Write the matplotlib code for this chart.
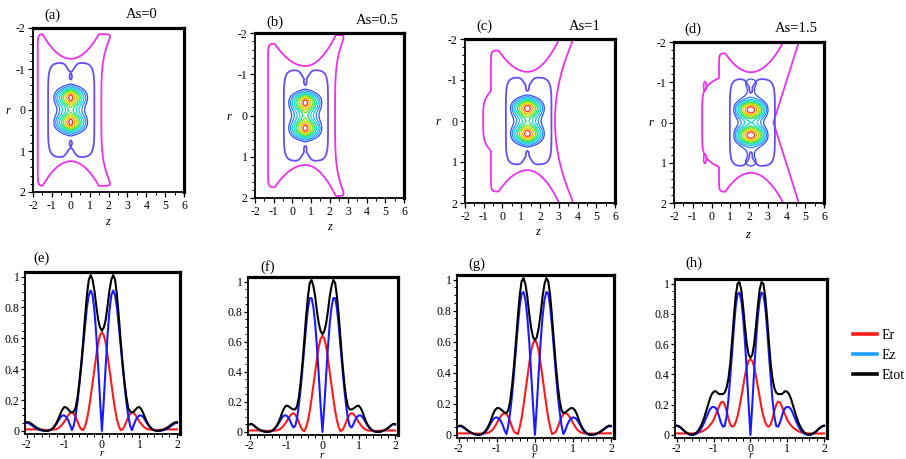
"""
Field-shift comparison: contour maps of |E| in the (z, r) plane for four
values of As (top row) and the radial profiles Er, Ez, Etot at the focus
(bottom row).  Output: out.png
"""

import numpy as np
import matplotlib.pyplot as plt
from matplotlib.lines import Line2D
from matplotlib.ticker import MultipleLocator

plt.rcParams["font.family"] = ["Liberation Serif", "DejaVu Serif"]
plt.rcParams["axes.unicode_minus"] = False

# ── radial profiles, read for r = 0 .. 2 (step 0.05); curves are symmetric ──
R_HALF = np.round(np.arange(0, 2.001, 0.05), 2)

ER_E = [0.64, 0.62, 0.57, 0.49, 0.40, 0.31, 0.22, 0.14, 0.075, 0.03, 0.005,
        0.01, 0.03, 0.06, 0.09, 0.11, 0.12, 0.115, 0.10, 0.08, 0.06,
        0.045, 0.03, 0.02, 0.013, 0.01, 0.008, 0.007, 0.006, 0.006, 0.006,
        0.007, 0.008, 0.009, 0.01, 0.01, 0.01, 0.01, 0.01, 0.01, 0.01]
EZ_E = [0.0, 0.20, 0.42, 0.62, 0.78, 0.88, 0.91, 0.88, 0.80, 0.68, 0.55,
        0.42, 0.30, 0.19, 0.10, 0.035, 0.005, 0.04, 0.07, 0.09, 0.10,
        0.10, 0.09, 0.07, 0.05, 0.032, 0.018, 0.008, 0.003, 0.0, 0.0,
        0.001, 0.003, 0.006, 0.01, 0.016, 0.024, 0.033, 0.042, 0.05, 0.052]
ETOT_E = [0.65, 0.67, 0.72, 0.81, 0.91, 0.98, 1.01, 0.98, 0.88, 0.74, 0.58,
          0.44, 0.32, 0.22, 0.15, 0.125, 0.12, 0.125, 0.14, 0.152, 0.155,
          0.14, 0.115, 0.085, 0.058, 0.036, 0.02, 0.01, 0.004, 0.001, 0.0,
          0.002, 0.005, 0.01, 0.016, 0.023, 0.032, 0.041, 0.05, 0.056, 0.057]

ER_F = [0.64, 0.62, 0.57, 0.49, 0.40, 0.31, 0.22, 0.14, 0.075, 0.03, 0.006,
        0.012, 0.035, 0.065, 0.095, 0.115, 0.125, 0.12, 0.105, 0.085, 0.065,
        0.048, 0.033, 0.022, 0.015, 0.011, 0.009, 0.008, 0.007, 0.007, 0.007,
        0.008, 0.009, 0.01, 0.01, 0.01, 0.01, 0.01, 0.01, 0.01, 0.01]
EZ_F = [0.0, 0.17, 0.37, 0.56, 0.72, 0.83, 0.89, 0.89, 0.82, 0.70, 0.56,
        0.42, 0.29, 0.18, 0.09, 0.04, 0.03, 0.05, 0.08, 0.10, 0.11,
        0.11, 0.10, 0.08, 0.06, 0.04, 0.025, 0.013, 0.006, 0.002, 0.0,
        0.0, 0.002, 0.005, 0.01, 0.016, 0.025, 0.035, 0.045, 0.052, 0.05]
ETOT_F = [0.65, 0.67, 0.72, 0.80, 0.90, 0.97, 1.01, 0.99, 0.90, 0.77, 0.61,
          0.46, 0.33, 0.23, 0.17, 0.15, 0.15, 0.155, 0.165, 0.173, 0.175,
          0.16, 0.135, 0.10, 0.07, 0.045, 0.028, 0.016, 0.008, 0.003, 0.001,
          0.0, 0.003, 0.007, 0.012, 0.018, 0.026, 0.036, 0.046, 0.054, 0.052]

ER_G = [0.61, 0.59, 0.54, 0.46, 0.37, 0.28, 0.19, 0.11, 0.05, 0.005, 0.012,
        0.02, 0.05, 0.085, 0.115, 0.135, 0.14, 0.135, 0.12, 0.10, 0.077,
        0.056, 0.038, 0.025, 0.017, 0.012, 0.01, 0.009, 0.008, 0.008, 0.008,
        0.008, 0.009, 0.01, 0.01, 0.01, 0.01, 0.01, 0.01, 0.01, 0.01]
EZ_G = [0.0, 0.19, 0.40, 0.60, 0.76, 0.87, 0.92, 0.91, 0.83, 0.70, 0.55,
        0.40, 0.26, 0.15, 0.06, 0.005, 0.03, 0.065, 0.09, 0.105, 0.113,
        0.11, 0.10, 0.08, 0.058, 0.037, 0.02, 0.009, 0.003, 0.0, 0.0,
        0.002, 0.005, 0.01, 0.016, 0.024, 0.033, 0.042, 0.05, 0.055, 0.055]
ETOT_G = [0.61, 0.63, 0.69, 0.78, 0.89, 0.97, 1.01, 0.99, 0.90, 0.76, 0.60,
          0.45, 0.32, 0.22, 0.16, 0.14, 0.145, 0.155, 0.165, 0.173, 0.172,
          0.16, 0.135, 0.10, 0.07, 0.045, 0.026, 0.014, 0.006, 0.002, 0.0,
          0.002, 0.006, 0.011, 0.018, 0.026, 0.035, 0.045, 0.054, 0.06, 0.058]

ER_H = [0.50, 0.49, 0.45, 0.39, 0.32, 0.25, 0.18, 0.125, 0.085, 0.06, 0.055,
        0.07, 0.11, 0.16, 0.20, 0.22, 0.215, 0.19, 0.16, 0.13, 0.10,
        0.08, 0.065, 0.05, 0.04, 0.032, 0.025, 0.02, 0.016, 0.013, 0.011,
        0.01, 0.01, 0.01, 0.01, 0.01, 0.01, 0.01, 0.01, 0.01, 0.01]
EZ_H = [0.0, 0.20, 0.42, 0.62, 0.78, 0.89, 0.94, 0.93, 0.85, 0.71, 0.54,
        0.38, 0.23, 0.12, 0.06, 0.055, 0.08, 0.12, 0.16, 0.18, 0.185,
        0.183, 0.17, 0.145, 0.115, 0.085, 0.06, 0.038, 0.022, 0.011, 0.004,
        0.001, 0.0, 0.003, 0.008, 0.016, 0.026, 0.037, 0.048, 0.057, 0.06]
ETOT_H = [0.51, 0.53, 0.60, 0.72, 0.85, 0.96, 1.01, 1.00, 0.92, 0.78, 0.62,
          0.47, 0.37, 0.31, 0.28, 0.27, 0.27, 0.27, 0.28, 0.29, 0.285,
          0.27, 0.24, 0.20, 0.16, 0.12, 0.085, 0.058, 0.037, 0.02, 0.01,
          0.004, 0.002, 0.004, 0.01, 0.018, 0.028, 0.04, 0.05, 0.058, 0.062]

AS_VALUES = ["0", "0.5", "1", "1.5"]
TOP_TAGS = ["(a)", "(b)", "(c)", "(d)"]
BOT_TAGS = ["(e)", "(f)", "(g)", "(h)"]

# ── contour-map shape, read from the top row (u = z - PEAK_Z) ──
PEAK_Z = [0.0, 0.7, 1.33, 2.1]          # z of the focal spot
CORE_E = [0.03, 0.05, 0.12, 0.30]       # flat top of the core along z
CORE_L = [1.15, 1.12, 1.05, 0.88]       # core decay length along z
# outer (magenta) contour
HALO_R0 = [1.25, 1.20, 1.20, 1.25]      # half-width at the focus
HALO_KL = [0.27, 0.20, 0.22, 0.25]      # opening towards -z
HALO_KR = [0.27, 0.28, 0.28, 0.25]      # opening towards +z
HALO_CAPL = [1.85, 1.74, 1.72, 1.72]    # largest half-width, -z side
HALO_CAPR = [1.85, 1.95, 2.10, 2.20]    # largest half-width, +z side
HALO_UL0 = [1.75, 2.00, 2.36, 2.60]     # extent towards -z near the axis
HALO_ULMIN = [1.75, 1.95, 1.95, 1.70]   # extent towards -z away from axis
HALO_NL = [0.0, 0.0, 1.5, 0.5]
HALO_PL = [2, 2, 4, 6]
HALO_UR0 = [1.62, 1.60, 1.47, 1.20]     # extent towards +z on the axis
HALO_MR = [0.05, 0.04, 0.25, 0.68]
HALO_PR = [4, 4, 2, 1]
ISLAND_U = [None, None, None, -2.45]    # small magenta loops at r = ±0.9
# second (violet) contour
MID_R0 = [1.15, 1.10, 1.06, 1.08]
MID_UL = [1.20, 1.15, 1.15, 1.12]
MID_UR = [1.25, 1.22, 1.28, 1.28]

HALO_COLOR = "#ee30ee"
MID_COLOR = "#6b4cf2"
CORE_COLORS = ["#3050ff", "#2f8cff", "#20c4f2", "#10e0c8", "#20e070",
               "#78e020", "#cce000", "#ffb000", "#ff3030"]
CORE_LEVELS = np.linspace(0.25, 0.93, 9)

ER_COLOR, EZ_COLOR, ETOT_COLOR = "#ff1a1a", "#1a1aff", "black"
EZ_LEGEND_COLOR = "#1ea0ff"

FIG_W, FIG_H = 906, 459
TOP_BOXES = [(33, 28, 184, 192), (255, 33, 404, 198),
             (465, 39, 615, 203), (674, 42, 824, 203)]
BOT_BOXES = [(25, 272, 180, 434), (248, 277, 398, 435),
             (457, 275, 614, 438), (675, 279, 827, 438)]


def fig_rect(box):
    x0, y0, x1, y1 = box
    return [x0 / FIG_W, 1 - y1 / FIG_H, (x1 - x0) / FIG_W, (y1 - y0) / FIG_H]


def fpos(x, y):
    return x / FIG_W, 1 - y / FIG_H


def style_frame(ax, pad=2, length=3.5):
    for side in ["top", "right"]:
        ax.spines[side].set_linewidth(2.3)
    for side in ["left", "bottom"]:
        ax.spines[side].set_linewidth(1.3)
    ax.tick_params(which="major", direction="out", length=length, width=0.9,
                   labelsize=8.5, pad=pad)
    ax.tick_params(which="minor", direction="out", length=2, width=0.7)


def mirror(vals):
    v = np.asarray(vals, dtype=float)
    return np.concatenate([v[:0:-1], v])


R_FULL = np.concatenate([-R_HALF[:0:-1], R_HALF])


def contour_panel(ax, i, etot):
    z = np.linspace(-2, 6, 241)
    r = np.linspace(-2, 2, 161)
    Z, Rg = np.meshgrid(z, r)
    u = Z - PEAK_Z[i]
    ar = np.abs(Rg)
    left = u < 0

    # outer (magenta) contour: X-shaped opening, flattened near the edges
    R = np.where(left,
                 np.minimum(HALO_R0[i] + HALO_KL[i] * u ** 2, HALO_CAPL[i]),
                 np.minimum(HALO_R0[i] + HALO_KR[i] * u ** 2, HALO_CAPR[i]))
    U = np.where(left,
                 np.maximum(HALO_UL0[i] - HALO_NL[i] * ar ** HALO_PL[i],
                            HALO_ULMIN[i]),
                 HALO_UR0[i] + HALO_MR[i] * ar ** HALO_PR[i])
    halo = ((ar / R) ** 24 + (np.abs(u) / U) ** 24) ** (1 / 24)
    ax.contour(Z, Rg, halo, levels=[1.0], colors=[HALO_COLOR], linewidths=1.3)
    if ISLAND_U[i] is not None:
        isl = np.hypot((u - ISLAND_U[i]) / 0.07, (ar - 0.9) / 0.12)
        ax.contour(Z, Rg, isl, levels=[1.0], colors=[HALO_COLOR],
                   linewidths=1.2)

    # second (violet) contour with a notch and small holes near r = ±0.8
    Rm = MID_R0[i] - 0.22 * np.exp(-(u / 0.25) ** 2)
    Um = np.where(left, MID_UL[i], MID_UR[i])
    dm = ((ar / Rm) ** 6 + (np.abs(u) / Um) ** 6) ** (1 / 6)
    hole = np.exp(-(u ** 2 + (ar - 0.8) ** 2) / 0.055 ** 2)
    mid = (1 / dm) * (1 - 0.6 * hole)
    ax.contour(Z, Rg, mid, levels=[1.0], colors=[MID_COLOR], linewidths=1.3)

    # core: radial Etot profile times axial envelope
    p = np.interp(ar, R_HALF, etot) / max(etot)
    e, L = CORE_E[i], CORE_L[i]
    a = 1 - (np.sqrt(u ** 2 + e ** 2) - e) / L
    ax.contour(Z, Rg, p * a, levels=CORE_LEVELS, colors=CORE_COLORS,
               linewidths=0.9)

    ax.set_xlim(-2, 6)
    ax.set_ylim(2, -2)
    ax.xaxis.set_major_locator(MultipleLocator(1))
    ax.xaxis.set_minor_locator(MultipleLocator(0.5))
    ax.yaxis.set_major_locator(MultipleLocator(1))
    ax.yaxis.set_minor_locator(MultipleLocator(0.2))
    style_frame(ax)


def profile_panel(ax, er, ez, etot):
    ax.plot(R_FULL, mirror(er), color=ER_COLOR, lw=1.5)
    ax.plot(R_FULL, mirror(ez), color=EZ_COLOR, lw=1.5)
    ax.plot(R_FULL, mirror(etot), color=ETOT_COLOR, lw=1.5)
    ax.set_xlim(-2.05, 2.08)
    ax.set_ylim(-0.02, 1.03)
    ax.xaxis.set_major_locator(MultipleLocator(1))
    ax.xaxis.set_minor_locator(MultipleLocator(0.2))
    ax.yaxis.set_minor_locator(MultipleLocator(0.05))
    ax.set_yticks([0, 0.2, 0.4, 0.6, 0.8, 1])
    ax.set_yticklabels(["0", "0.2", "0.4", "0.6", "0.8", "1"])
    style_frame(ax, pad=0.8, length=3)


def main():
    fig = plt.figure(figsize=(FIG_W / 100, FIG_H / 100), dpi=100)
    fig.patch.set_facecolor("white")

    profiles = [(ER_E, EZ_E, ETOT_E), (ER_F, EZ_F, ETOT_F),
                (ER_G, EZ_G, ETOT_G), (ER_H, EZ_H, ETOT_H)]

    tag_top = [(52, 15), (275, 22), (484, 26), (693, 29)]
    as_pos = [(142, 15), (377, 20), (585, 26), (796, 29)]
    r_top = [(8, 111), (229, 117), (438, 122), (651, 123)]
    z_top = [(108, 222), (330, 227), (538, 232), (748, 235)]
    tag_bot = [(42, 258), (268, 267), (477, 264), (694, 263)]
    r_bot = [(102, 454), (322, 455), (534, 455), (751, 455)]

    for i in range(4):
        ax = fig.add_axes(fig_rect(TOP_BOXES[i]))
        contour_panel(ax, i, profiles[i][2])
        fig.text(*fpos(*tag_top[i]), TOP_TAGS[i], fontsize=10.5,
                 ha="center", va="center")
        fig.text(*fpos(*as_pos[i]), f"As={AS_VALUES[i]}", fontsize=10.5,
                 ha="center", va="center")
        fig.text(*fpos(*r_top[i]), "r", fontsize=9, style="italic",
                 ha="center", va="center")
        fig.text(*fpos(*z_top[i]), "z", fontsize=9, style="italic",
                 ha="center", va="center")

        bx = fig.add_axes(fig_rect(BOT_BOXES[i]))
        profile_panel(bx, *profiles[i])
        fig.text(*fpos(*tag_bot[i]), BOT_TAGS[i], fontsize=10.5,
                 ha="center", va="center")
        fig.text(*fpos(*r_bot[i]), "r", fontsize=8, style="italic",
                 ha="center", va="center")

    handles = [Line2D([], [], color=ER_COLOR, lw=2.6),
               Line2D([], [], color=EZ_LEGEND_COLOR, lw=2.6),
               Line2D([], [], color=ETOT_COLOR, lw=2.6)]
    fig.legend(handles, ["Er", "Ez", "Etot"], loc="upper left",
               bbox_to_anchor=fpos(853, 329), frameon=False, fontsize=10,
               borderpad=0, borderaxespad=0, handlelength=1.75,
               handletextpad=0.3, labelspacing=0.5)

    fig.savefig("out.png", dpi=100, facecolor="white")
    plt.close(fig)


if __name__ == "__main__":
    main()
